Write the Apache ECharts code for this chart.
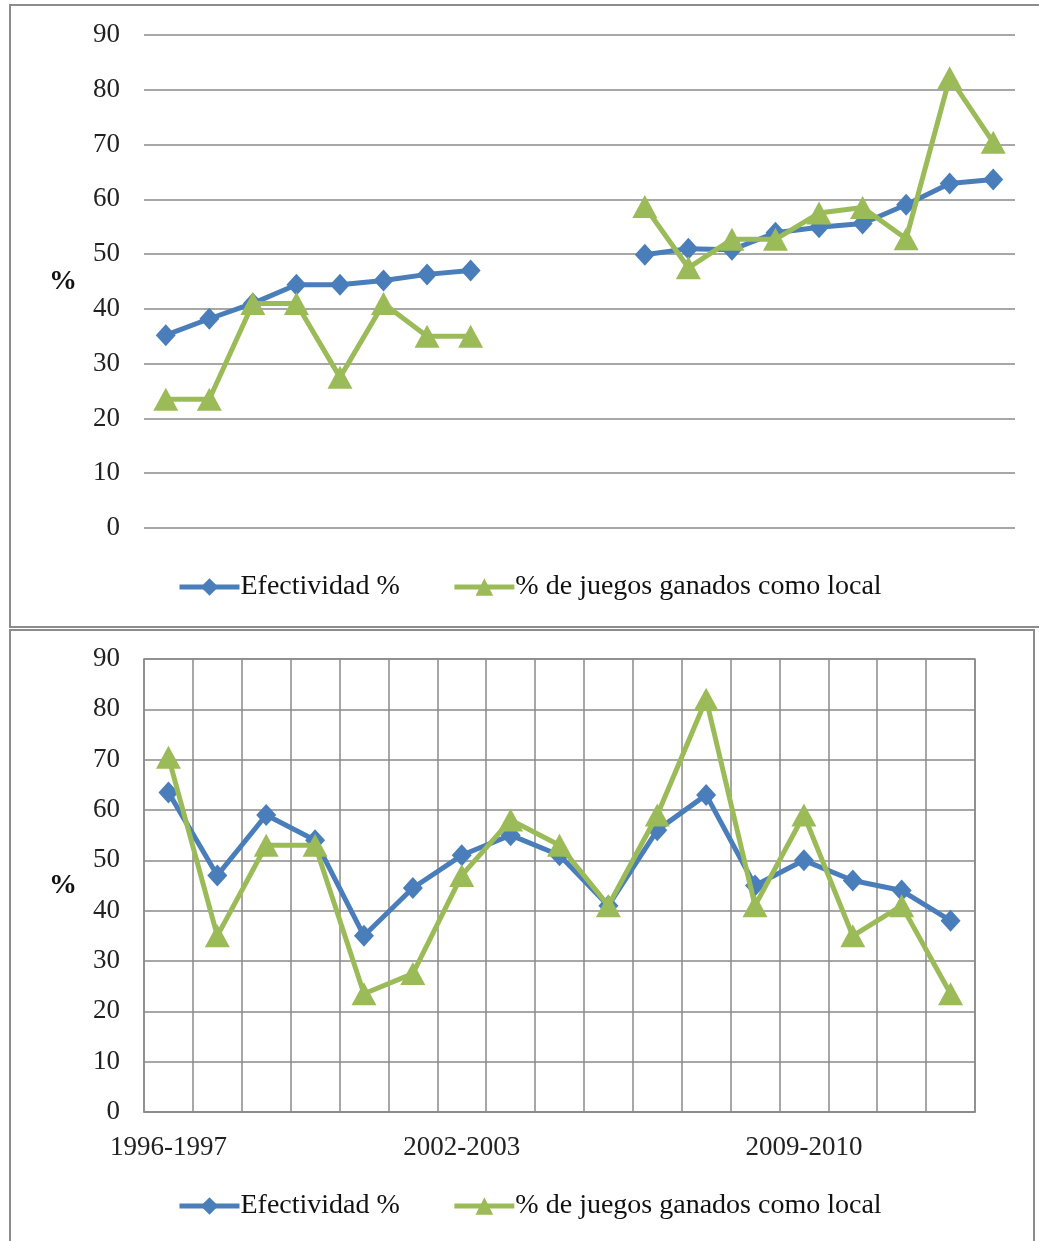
<!DOCTYPE html>
<html><head><meta charset="utf-8">
<script src="https://cdn.jsdelivr.net/npm/echarts@6/dist/echarts.min.js"></script>
<style>html,body{margin:0;padding:0;background:#fff}#c{width:1039px;height:1241px}</style>
</head><body><div id="c"></div>
<script>
// Bottom panel: seasons in chronological order
const seasons = ['1996-1997','1997-1998','1998-1999','1999-2000','2000-2001','2001-2002','2002-2003','2003-2004','2004-2005','2005-2006','2006-2007','2007-2008','2008-2009','2009-2010','2010-2011','2011-2012','2012-2013'];
const efectividad = [63.5, 47, 59, 54, 35, 44.5, 51, 55, 51, 41, 56, 63, 45, 50, 46, 44, 38];
const juegosLocal = [70.5, 35, 53, 53, 23.5, 27.5, 47, 58, 53, 41, 59, 82, 41, 59, 35, 41, 23.5];
const shownSeasonLabels = ['1996-1997','2002-2003','2009-2010'];

// Top panel: seasons ordered by effectiveness, with an empty gap
const sortedSeasons = ['2000-2001','2012-2013','2005-2006','2011-2012','2001-2002','2008-2009','2010-2011','1997-1998',' ','  ','   ','2009-2010','2002-2003','2004-2005','1999-2000','2003-2004','2006-2007','1998-1999','2007-2008','1996-1997'];
const sortedEfectividad = [35.2, 38.2, 41, 44.4, 44.4, 45.2, 46.3, 47, null, null, null, 49.9, 51, 50.8, 53.9, 54.9, 55.6, 59, 62.9, 63.6];
const sortedJuegosLocal = [23.5, 23.5, 41, 41, 27.5, 41, 35, 35, null, null, null, 58.7, 47.5, 52.7, 52.7, 57.5, 58.5, 52.8, 82.2, 70.4];

const Y_MIN = 0, Y_MAX = 90, Y_STEP = 10;
const SERIES_NAMES = ['Efectividad %', '% de juegos ganados como local'];

const FONT = 'Liberation Serif';
const BLUE = '#4a7ebb';
const GREEN = '#9bbb59';
const GRIDC = '#8a8a8a';

function yAxis(gridIndex) {
  return {
    type: 'value', gridIndex, min: Y_MIN, max: Y_MAX, interval: Y_STEP,
    name: '%', nameLocation: 'middle', nameRotate: 0, nameGap: 67,
    nameTextStyle: { fontFamily: FONT, fontWeight: 'bold', fontSize: 28, color: '#111', align: 'right' },
    axisLine: { show: false }, axisTick: { show: false },
    axisLabel: { fontFamily: FONT, fontSize: 27, color: '#222', margin: 24 },
    splitLine: { show: true, lineStyle: { color: GRIDC, width: 1.5 } }
  };
}
function lineSeries(name, data, xi, color, symbol, size) {
  return {
    name, type: 'line', xAxisIndex: xi, yAxisIndex: xi, data,
    symbol, symbolSize: size, showSymbol: true,
    lineStyle: { color, width: 5 }, itemStyle: { color },
    connectNulls: false, animation: false, z: name === SERIES_NAMES[1] ? 3 : 2
  };
}
function legend(top) {
  return {
    data: SERIES_NAMES, left: 172, top, itemWidth: 60, itemHeight: 22, itemGap: 52,
    lineStyle: { width: 5 },
    textStyle: { fontFamily: FONT, fontSize: 28, color: '#111', padding: [0, 0, 0, -4] },
    selectedMode: false
  };
}

const chart = echarts.init(document.getElementById('c'), null, { renderer: 'canvas' });
chart.setOption({
  backgroundColor: '#fff',
  animation: false,
  graphic: [
    { type: 'rect', shape: { x: 10, y: 5, width: 1040, height: 622 }, style: { fill: 'none', stroke: '#8c8c8c', lineWidth: 2 }, silent: true },
    { type: 'rect', shape: { x: 10, y: 630, width: 1024, height: 640 }, style: { fill: 'none', stroke: '#8c8c8c', lineWidth: 2 }, silent: true }
  ],
  grid: [
    { left: 144, top: 35, width: 871, height: 493 },
    { left: 144, top: 659, width: 831, height: 453, show: true, borderColor: GRIDC, borderWidth: 1.5 }
  ],
  legend: [legend(568), legend(1187)],
  xAxis: [
    { type: 'category', gridIndex: 0, data: sortedSeasons, boundaryGap: true,
      axisLine: { show: false }, axisTick: { show: false }, axisLabel: { show: false }, splitLine: { show: false } },
    { type: 'category', gridIndex: 1, data: seasons, boundaryGap: true,
      axisLine: { show: true, lineStyle: { color: GRIDC, width: 1.5 } }, axisTick: { show: false },
      axisLabel: { fontFamily: FONT, fontSize: 27, color: '#222', margin: 22,
        interval: (i, v) => shownSeasonLabels.includes(v) },
      splitLine: { show: true, interval: 0, lineStyle: { color: GRIDC, width: 1.5 } } }
  ],
  yAxis: [yAxis(0), yAxis(1)],
  series: [
    lineSeries(SERIES_NAMES[0], sortedEfectividad, 0, BLUE, 'diamond', [20, 22]),
    lineSeries(SERIES_NAMES[1], sortedJuegosLocal, 0, GREEN, 'triangle', [25, 23]),
    lineSeries(SERIES_NAMES[0], efectividad, 1, BLUE, 'diamond', [20, 22]),
    lineSeries(SERIES_NAMES[1], juegosLocal, 1, GREEN, 'triangle', [25, 23])
  ]
});
</script></body></html>
